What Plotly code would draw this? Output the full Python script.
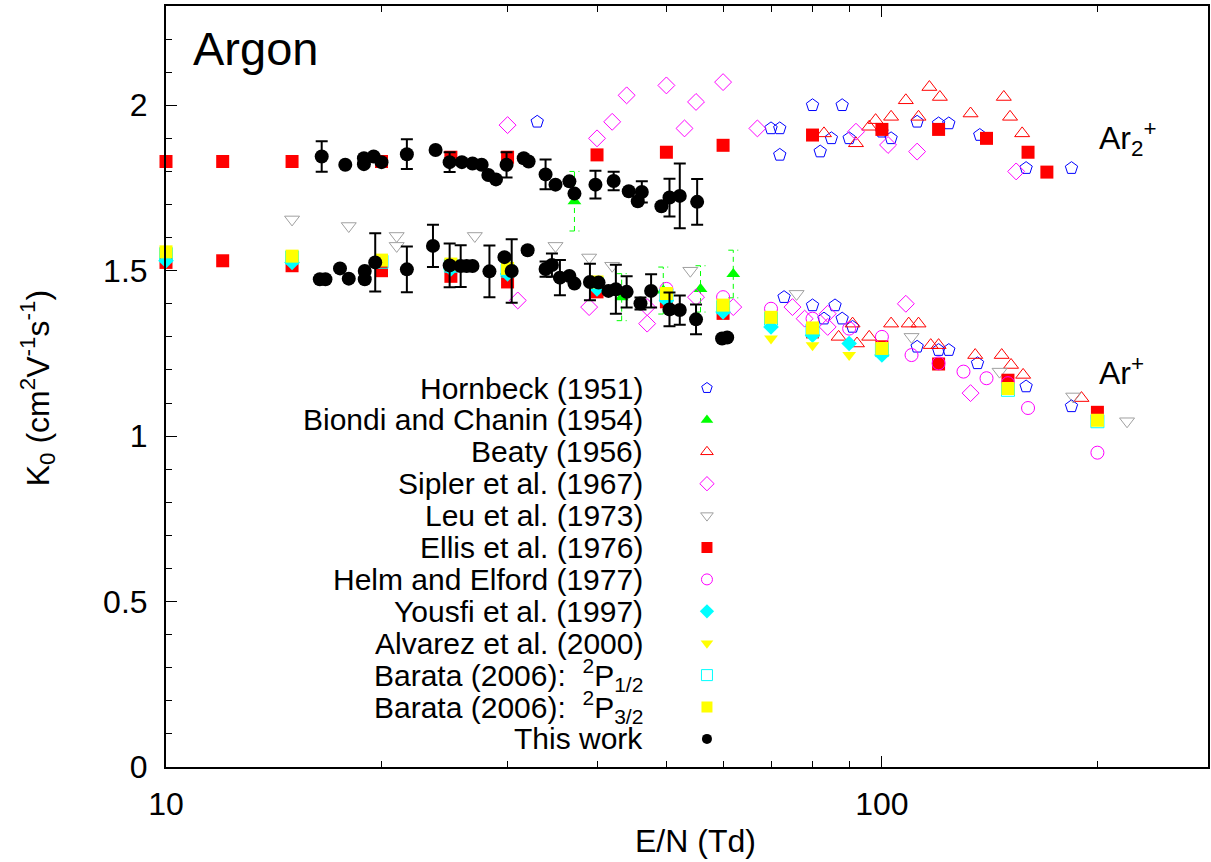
import plotly.graph_objects as go

FONT = "Liberation Sans, Arial, Helvetica, sans-serif"

# ---------------- data (E/N in Td, K0 in cm2 V-1 s-1) ----------------
hornbeck_x = [33, 70, 72, 72, 80, 82, 85, 88, 90, 100, 103, 112, 120, 124, 137, 159, 184,
              73, 80, 83, 86, 88, 91, 112, 120, 124, 136, 159, 184]
hornbeck_y = [1.95, 1.93, 1.93, 1.85, 2.0, 1.86, 1.90, 2.0, 1.90, 1.92, 1.90, 1.95, 1.945, 1.945, 1.91, 1.81, 1.81,
              1.42, 1.395, 1.355, 1.395, 1.355, 1.33, 1.27, 1.26, 1.26, 1.22, 1.15, 1.09]

biondi_x = [37.2, 43.3, 49.5, 55.8, 62]
biondi_y = [1.71, 1.42, 1.44, 1.445, 1.49]
biondi_err = [0.09, 0.071, 0.071, 0.07, 0.072]

beaty_x = [83, 92, 96, 98, 103, 108, 112.5, 116.5, 120.5, 133, 148, 151, 157,
           87, 91, 92.3, 96, 103, 109, 112.5, 117, 120, 135, 147, 151.5, 157.5, 190]
beaty_y = [1.915, 1.885, 1.935, 1.955, 1.965, 2.015, 1.965, 2.055, 2.025, 1.975, 2.025, 1.965, 1.915,
           1.30, 1.34, 1.28, 1.30, 1.34, 1.34, 1.34, 1.275, 1.275, 1.245, 1.245, 1.215, 1.185, 1.115]

sipler_x = [30, 40, 42, 44, 50, 53, 55, 60, 67, 92, 102, 112, 154,
            31, 39, 47, 47, 55, 62, 75, 78, 84, 84, 108, 133]
sipler_y = [1.94, 1.90, 1.95, 2.03, 2.06, 1.93, 2.01, 2.07, 1.93, 1.92, 1.88, 1.86, 1.80,
            1.41, 1.39, 1.39, 1.34, 1.42, 1.39, 1.39, 1.355, 1.37, 1.33, 1.40, 1.13]

leu_x = [15, 18, 21, 21, 27, 35, 39, 42, 54, 76, 110, 146, 185, 220]
leu_y = [1.655, 1.635, 1.605, 1.575, 1.605, 1.575, 1.54, 1.515, 1.50, 1.43, 1.30, 1.195, 1.12, 1.045]

ellis_x = [10, 12, 15, 20, 25, 30, 40, 50, 60, 80, 100, 120, 140, 160, 170,
           10, 12, 15, 20, 25, 30, 40, 50, 60, 80, 100, 120, 150, 200]
ellis_y = [1.83, 1.83, 1.83, 1.83, 1.843, 1.843, 1.85, 1.858, 1.879, 1.91, 1.927, 1.927, 1.90, 1.858, 1.798,
           1.525, 1.53, 1.515, 1.50, 1.483, 1.466, 1.436, 1.406, 1.371, 1.315, 1.27, 1.218, 1.169, 1.072]

helm_x = [50, 60, 70, 80, 90, 100, 110, 120, 130, 140, 150, 160, 200]
helm_y = [1.445, 1.42, 1.385, 1.355, 1.325, 1.30, 1.245, 1.22, 1.195, 1.175, 1.16, 1.085, 0.95]

yousfi_x = [10, 15, 25, 30, 40, 50, 60, 70, 80, 90, 100]
yousfi_y = [1.53, 1.525, 1.505, 1.49, 1.445, 1.41, 1.375, 1.33, 1.305, 1.28, 1.245]

alvarez_x = [70, 80, 90]
alvarez_y = [1.295, 1.275, 1.245]

barata12_x = [10, 15, 20, 25, 30, 40, 50, 60, 70, 80, 100, 150, 200]
barata12_y = [1.55, 1.54, 1.527, 1.515, 1.50, 1.46, 1.425, 1.39, 1.355, 1.32, 1.26, 1.14, 1.045]

barata32_x = [10, 15, 20, 25, 30, 40, 50, 60, 70, 80, 100, 150, 200]
barata32_y = [1.557, 1.544, 1.532, 1.52, 1.507, 1.466, 1.431, 1.396, 1.359, 1.327, 1.265, 1.144, 1.048]

thiswork_x = [16.5, 17.8, 18.9, 18.9, 19.5, 20.0, 21.7, 23.8, 24.9, 25.9, 26.8, 27.6, 28.2, 28.9, 29.9,
              31.6, 32.1, 33.9, 35.0, 36.6, 37.2, 39.8, 42.2, 44.3, 45.6, 46.2, 49.2, 50.5, 52.2, 55.2,
              16.4, 16.7, 17.5, 18.0, 18.95, 18.95, 19.6, 21.7, 23.6, 24.9, 25.8, 26.3, 26.8, 28.3, 29.7,
              30.4, 32.0, 33.9, 34.6, 35.5, 36.6, 37.2, 39.1, 40.2, 41.5, 42.5, 44.0, 46.0, 47.6, 50.5,
              52.2, 55.0, 59.8, 60.8]
thiswork_y = [1.845, 1.82, 1.84, 1.822, 1.845, 1.828, 1.852, 1.865, 1.828, 1.828, 1.824, 1.82, 1.789, 1.776, 1.82,
              1.84, 1.83, 1.791, 1.76, 1.77, 1.733, 1.76, 1.771, 1.74, 1.71, 1.738, 1.695, 1.721, 1.726, 1.708,
              1.474, 1.474, 1.507, 1.476, 1.499, 1.474, 1.525, 1.504, 1.575, 1.516, 1.514, 1.514, 1.514, 1.498, 1.541,
              1.499, 1.562, 1.505, 1.517, 1.479, 1.484, 1.461, 1.466, 1.464, 1.439, 1.444, 1.436, 1.401, 1.439, 1.383,
              1.381, 1.353, 1.295, 1.298]
thiswork_err = [0.046, 0, 0, 0, 0, 0, 0.045, 0, 0.03, 0, 0, 0, 0, 0, 0.038,
                0, 0, 0.045, 0, 0, 0, 0.042, 0.028, 0, 0, 0.032, 0, 0.057, 0.098, 0.069,
                0, 0, 0, 0, 0, 0, 0.088, 0.069, 0.064, 0.066, 0.063, 0, 0, 0.078, 0.008,
                0.096, 0.008, 0.023, 0.035, 0.053, 0, 0, 0.055, 0, 0, 0.074, 0.047, 0.018, 0.05, 0.051,
                0.044, 0.045, 0, 0]

x_ticks = [10, 100]
x_ticktext = ["10", "100"]
x_minor = [20, 30, 40, 50, 60, 70, 80, 90, 200]
y_ticks = [0, 0.5, 1, 1.5, 2]
y_ticktext = ["0", "0.5", "1", "1.5", "2"]

# ---------------- layout geometry (pixels) ----------------
W, H = 1211, 862
L, R, T, B = 166, 1, 6, 95
PW, PH = W - L - R, H - T - B
FS = 32
LFS = 30


def px_x(p):
    return (p - L) / PW


def px_y(p):
    return (H - B - p) / PH


series = [
    dict(name="Hornbeck (1951)", x=hornbeck_x, y=hornbeck_y, symbol="pentagon-open", color="#0000ff", size=13),
    dict(name="Biondi and Chanin (1954)", x=biondi_x, y=biondi_y, symbol="triangle-up", color="#00ff00", size=12),
    dict(name="Beaty (1956)", x=beaty_x, y=beaty_y, symbol="triangle-up-open", color="#ff0000", size=13),
    dict(name="Sipler et al. (1967)", x=sipler_x, y=sipler_y, symbol="diamond-open", color="#ff00ff", size=13),
    dict(name="Leu et al. (1973)", x=leu_x, y=leu_y, symbol="triangle-down-open", color="#a0a0a0", size=13),
    dict(name="Ellis et al. (1976)", x=ellis_x, y=ellis_y, symbol="square", color="#ff0000", size=13),
    dict(name="Helm and Elford (1977)", x=helm_x, y=helm_y, symbol="circle-open", color="#ff00ff", size=13),
    dict(name="Yousfi et al. (1997)", x=yousfi_x, y=yousfi_y, symbol="diamond", color="#00ffff", size=12),
    dict(name="Alvarez et al. (2000)", x=alvarez_x, y=alvarez_y, symbol="triangle-down", color="#ffff00", size=12),
    dict(name="Barata (2006):  <sup>2</sup>P<sub>1/2</sub>", x=barata12_x, y=barata12_y, symbol="square-open", color="#00ffff", size=13),
    dict(name="Barata (2006):  <sup>2</sup>P<sub>3/2</sub>", x=barata32_x, y=barata32_y, symbol="square", color="#ffff00", size=13),
    dict(name="This work", x=thiswork_x, y=thiswork_y, symbol="circle", color="#000000", size=14),
]

fig = go.Figure()

# dashed error bars of Biondi and Chanin (built from the data arrays)
cap = 10 ** (5 / 717.3)
ex, ey = [], []
for xv, yv, e in zip(biondi_x, biondi_y, biondi_err):
    ex += [xv, xv, None, xv / cap, xv * cap, None, xv / cap, xv * cap, None]
    ey += [yv - e, yv + e, None, yv - e, yv - e, None, yv + e, yv + e, None]
fig.add_trace(go.Scatter(x=ex, y=ey, mode="lines", line=dict(color="#00ff00", width=1, dash="5px,4px"),
                         showlegend=False, hoverinfo="skip", cliponaxis=False))

for s in series:
    kw = {}
    if s["name"] == "This work":
        kw["error_y"] = dict(type="data", array=[e if e > 0 else None for e in thiswork_err],
                             color="black", thickness=2, width=6, visible=True)
    open_ = s["symbol"].endswith("-open")
    fig.add_trace(go.Scatter(
        x=s["x"], y=s["y"], mode="markers", name=s["name"], showlegend=False, cliponaxis=False,
        marker=dict(symbol=s["symbol"], size=s["size"], color=s["color"],
                    line=dict(width=1, color=s["color"]) if open_ else dict(width=0)),
        **kw))

# custom gnuplot-style key: right-aligned text, symbol on the right
LEG_TOP, LEG_STEP = 388, 31.9
annotations = []
for i, s in enumerate(series):
    yp = px_y(LEG_TOP + LEG_STEP * i)
    annotations.append(dict(x=px_x(646), y=yp, xref="paper", yref="paper", text=s["name"],
                            showarrow=False, xanchor="right", yanchor="middle",
                            font=dict(size=LFS, color="black", family=FONT)))
    fig.add_trace(go.Scatter(
        x=[px_x(708)], y=[yp], xaxis="x2", yaxis="y2", mode="markers", showlegend=False,
        hoverinfo="skip", cliponaxis=False,
        marker=dict(symbol=s["symbol"], size=11 if s["symbol"] != "circle" else 10, color=s["color"],
                    line=dict(width=1, color=s["color"]) if s["symbol"].endswith("-open") else dict(width=0))))

annotations += [
    dict(x=px_x(191), y=px_y(48), xref="paper", yref="paper", text="Argon", showarrow=False,
         xanchor="left", yanchor="middle", font=dict(size=47, color="black", family=FONT)),
    dict(x=px_x(1099), y=px_y(139), xref="paper", yref="paper", text="Ar<sub>2</sub><sup>+</sup>",
         showarrow=False, xanchor="left", yanchor="middle", font=dict(size=FS, color="black", family=FONT)),
    dict(x=px_x(1099), y=px_y(371), xref="paper", yref="paper", text="Ar<sup>+</sup>",
         showarrow=False, xanchor="left", yanchor="middle", font=dict(size=FS, color="black", family=FONT)),
    dict(x=px_x(37), y=px_y(388), xref="paper", yref="paper",
         text="K<sub>0</sub> (cm<sup>2</sup>V<sup>-1</sup>s<sup>-1</sup>)", textangle=-90,
         showarrow=False, xanchor="center", yanchor="middle", font=dict(size=FS, color="black", family=FONT)),
    dict(x=px_x(697), y=px_y(861), xref="paper", yref="paper", text="E/N (Td)", showarrow=False,
         xanchor="center", yanchor="bottom", font=dict(size=FS, color="black", family=FONT)),
]

fig.update_layout(
    width=W, height=H, margin=dict(l=L, r=R, t=T, b=B, pad=0),
    paper_bgcolor="white", plot_bgcolor="white", showlegend=False,
    font=dict(family=FONT, size=FS, color="black"),
    annotations=annotations,
    xaxis=dict(type="log", range=[1, 2.4555], tickvals=x_ticks, ticktext=x_ticktext,
               ticks="inside", ticklen=11, tickwidth=1, tickcolor="black",
               showline=True, linewidth=2, linecolor="black", mirror="allticks",
               showgrid=False, zeroline=False, ticklabelstandoff=8,
               tickfont=dict(size=FS, family=FONT, color="black"),
               minor=dict(tickvals=x_minor, ticks="inside", ticklen=6, tickwidth=1, tickcolor="black",
                          showgrid=False)),
    yaxis=dict(range=[0, 2.3], tickvals=y_ticks, ticktext=y_ticktext,
               ticks="inside", ticklen=11, tickwidth=1, tickcolor="black",
               showline=True, linewidth=2, linecolor="black", mirror=True,
               showgrid=False, zeroline=False, ticklabelstandoff=10,
               tickfont=dict(size=FS, family=FONT, color="black"),
               minor=dict(dtick=0.1, ticks="inside", ticklen=6, tickwidth=1, tickcolor="black",
                          showgrid=False)),
    xaxis2=dict(overlaying="x", range=[0, 1], visible=False, anchor="y2"),
    yaxis2=dict(overlaying="y", range=[0, 1], visible=False, anchor="x2"),
)

fig.write_html("out.html")
